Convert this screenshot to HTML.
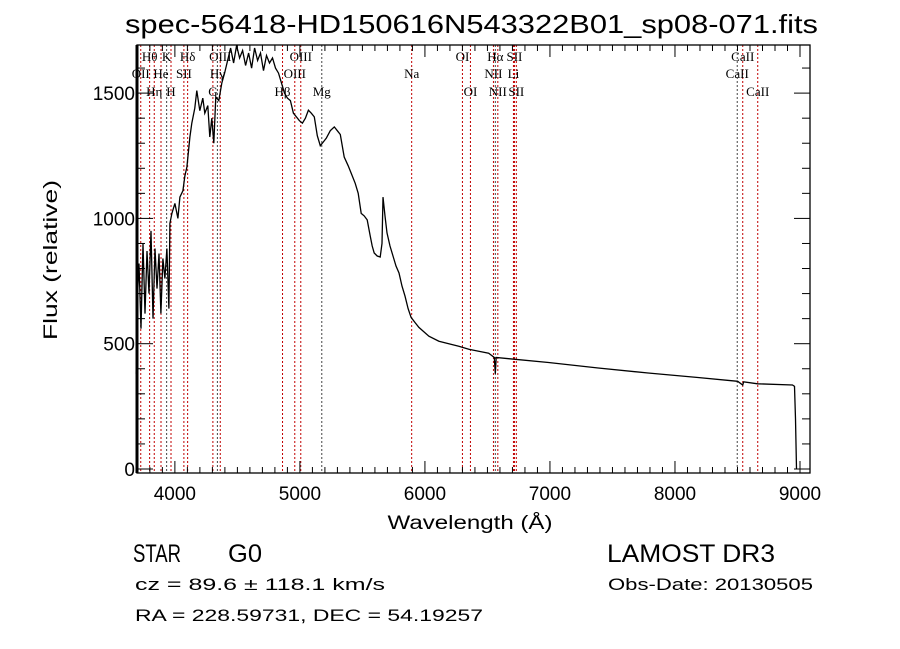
<!DOCTYPE html>
<html><head><meta charset="utf-8"><style>
html,body{margin:0;padding:0;background:#fff;}
svg{display:block;font-family:"Liberation Sans",sans-serif;}
</style></head><body>
<svg id="chart" width="900" height="649" viewBox="0 0 900 649" xmlns="http://www.w3.org/2000/svg">
<rect x="0" y="0" width="900" height="649" fill="#fff"/>
<text x="125" y="33" font-size="26" textLength="693" lengthAdjust="spacingAndGlyphs">spec-56418-HD150616N543322B01_sp08-071.fits</text>
<g id="lines"></g>
<g id="labels" font-family="Liberation Serif, serif" font-size="13"></g>
<path id="spec" fill="none" stroke="#000" stroke-width="1.3"/>
<g id="axes"></g>
<text x="470" y="529" font-size="19" text-anchor="middle" textLength="165" lengthAdjust="spacingAndGlyphs">Wavelength (Å)</text>
<text transform="translate(57,260) rotate(-90)" font-size="19" text-anchor="middle" textLength="160" lengthAdjust="spacingAndGlyphs">Flux (relative)</text>
<text x="133" y="562" font-size="25" textLength="48" lengthAdjust="spacingAndGlyphs">STAR</text>
<text x="228" y="562" font-size="25" textLength="34" lengthAdjust="spacingAndGlyphs">G0</text>
<text x="607" y="562" font-size="25" textLength="168" lengthAdjust="spacingAndGlyphs">LAMOST DR3</text>
<text x="135" y="590" font-size="17" textLength="250" lengthAdjust="spacingAndGlyphs">cz = 89.6 ± 118.1 km/s</text>
<text x="608" y="590" font-size="17" textLength="205" lengthAdjust="spacingAndGlyphs">Obs-Date: 20130505</text>
<text x="135" y="621" font-size="17" textLength="348" lengthAdjust="spacingAndGlyphs">RA = 228.59731, DEC =  54.19257</text>
</svg>
<script>
const wavelengths=[3690,3697,3713,3729,3745,3761,3777,3793,3809,3825,3841,3857,3873,3888,3904,3920,3936,3952,3960,3976,4000,4024,4040,4064,4080,4096,4120,4135,4159,4175,4199,4223,4239,4263,4279,4295,4311,4327,4351,4375,4398,4422,4446,4470,4494,4518,4542,4566,4590,4614,4638,4662,4685,4709,4733,4757,4781,4805,4829,4853,4877,4900,4924,4948,4972,4996,5020,5044,5068,5091,5115,5139,5163,5187,5211,5243,5275,5299,5323,5354,5386,5410,5442,5466,5490,5514,5538,5562,5578,5594,5618,5642,5657,5665,5681,5697,5721,5745,5769,5793,5817,5841,5865,5889,5920,5952,6032,6112,6191,6271,6351,6430,6510,6555,6563,6570,6669,6988,7386,7785,8183,8502,8542,8550,8661,8940,8956,8964,8972];
const fluxes=[380,650,820,560,900,620,870,700,950,600,880,720,860,620,840,760,880,640,980,1020,1060,1000,1085,1110,1170,1205,1325,1380,1440,1510,1430,1480,1420,1450,1325,1400,1300,1485,1470,1540,1580,1630,1680,1620,1690,1640,1670,1610,1660,1600,1680,1630,1660,1590,1650,1620,1640,1600,1580,1540,1500,1480,1470,1420,1405,1390,1380,1400,1432,1420,1405,1330,1290,1305,1320,1350,1365,1350,1335,1245,1210,1180,1140,1100,1020,1010,994,930,890,862,850,846,900,1085,1010,942,890,850,810,782,730,690,640,605,585,565,530,510,500,490,478,470,462,445,380,445,440,425,403,383,365,350,335,348,340,335,330,200,0];
const lineWaves=[3727,3798,3835,3889,3934,3969,4072,4102,4304,4340,4363,4861,4959,5007,5175,5894,6300,6364,6548,6563,6583,6708,6716,6731,8498,8542,8662];
const lineNames=["OII","Hθ","Hη","He","K","H","SII","Hδ","G","Hγ","OIII","Hβ","OIII","OIII","Mg","Na","OI","OI","NII","Hα","NII","Li","SII","SII","CaII","CaII","CaII"];
const lineRows=[2,1,3,2,1,3,2,1,3,2,1,3,2,1,3,2,1,3,2,1,3,2,1,3,2,1,3];
const xTicks=[4000,5000,6000,7000,8000,9000];
const yTicks=[0,500,1000,1500];
const L=137,R=810,T=45,B=473;
const X0=3697,X1=9080,Y0=-16,Y1=1692;
function sx(w){return L+(w-X0)/(X1-X0)*(R-L);}
function sy(f){return B-(f-Y0)/(Y1-Y0)*(B-T);}
const NS="http://www.w3.org/2000/svg";
function mk(tag,attrs,parent){const e=document.createElementNS(NS,tag);for(const k in attrs)e.setAttribute(k,attrs[k]);parent.appendChild(e);return e;}
const lg=document.getElementById('lines'),lb=document.getElementById('labels');
const rowY={1:61,2:78,3:96};
lineWaves.forEach((w,i)=>{
 const x=sx(w);
 const ln=mk('line',{x1:x,x2:x,y1:T,y2:B,stroke:i%5==4?'#444':'#c00000','stroke-width':1,'stroke-dasharray':'2,2'},lg);
 
 
 const t=mk('text',{x:x,y:rowY[lineRows[i]],'text-anchor':'middle'},lb);
 t.textContent=lineNames[i];
 
 
});
let d='';
wavelengths.forEach((w,i)=>{d+=(i?'L':'M')+sx(w).toFixed(1)+','+Math.max(T,sy(fluxes[i])).toFixed(1);});
document.getElementById('spec').setAttribute('d',d);
const ax=document.getElementById('axes');
const fr=mk('rect',{x:L,y:T,width:R-L,height:B-T,fill:'none',stroke:'#000','stroke-width':1.3},ax);


mk('line',{x1:L,x2:L,y1:T,y2:B,stroke:'#000','stroke-width':3},ax);
for(let w=3700;w<=9000;w+=100){const x=sx(w);const big=w%1000==0;const len=big?12:6;
 mk('line',{x1:x,x2:x,y1:B,y2:B-len,stroke:'#000'},ax);mk('line',{x1:x,x2:x,y1:T,y2:T+len,stroke:'#000'},ax);}
for(let f=0;f<=1600;f+=100){const y=sy(f);const big=f%500==0;const len=big?16:8;
 mk('line',{x1:L,x2:L+len,y1:y,y2:y,stroke:'#000'},ax);mk('line',{x1:R,x2:R-len,y1:y,y2:y,stroke:'#000'},ax);}
xTicks.forEach(v=>{const t=mk('text',{x:sx(v),y:B+27,'font-size':19,'text-anchor':'middle'},ax);t.textContent=v;
 
 });
yTicks.forEach(v=>{const t=mk('text',{x:L-2,y:sy(v)+7,'font-size':19,'text-anchor':'end'},ax);t.textContent=v;
 
 });
</script>
</body></html>
